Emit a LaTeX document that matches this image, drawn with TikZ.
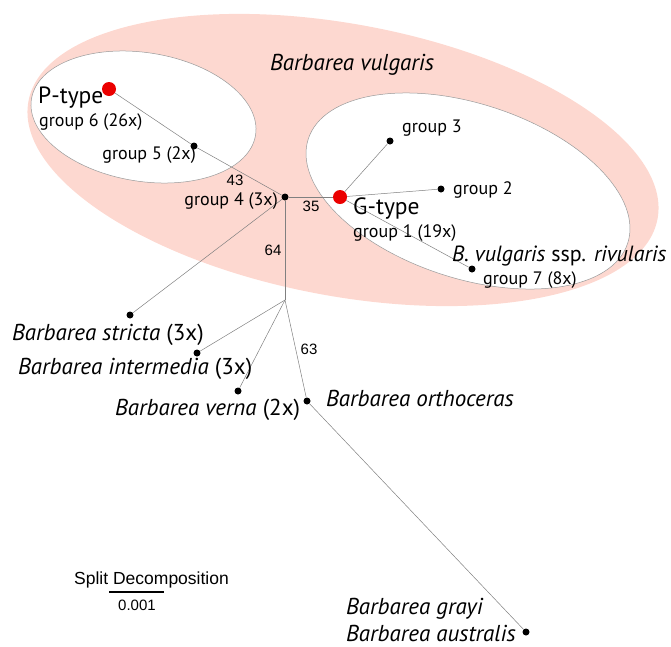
\documentclass[tikz,border=0pt]{standalone}
\usepackage{fontspec}
\setmainfont{PT Sans}
\newfontfamily\arialfont{Liberation Sans}
\usetikzlibrary{positioning}
\definecolor{vulgpink}{RGB}{253,216,208}
\definecolor{typered}{RGB}{235,0,0}
\tikzset{
	taxon/.style={
		circle,
		fill=black,
		inner sep=0pt,
		minimum size=7pt
	},
	typedot/.style={
		circle,
		fill=typered,
		inner sep=0pt,
		minimum size=14pt
	},
	branch/.style={
		draw=gray,
		line width=0.5pt
	},
	clade/.style={
		draw=gray!80,
		line width=0.5pt,
		fill=white
	},
	species/.style={
		inner sep=0pt,
		font=\fontsize{23}{25}\selectfont\itshape
	},
	grouplabel/.style={
		inner sep=0pt,
		font=\fontsize{18}{20}\selectfont
	},
	typelabel/.style={
		inner sep=0pt,
		font=\fontsize{23.5}{25}\selectfont
	},
	support/.style={
		inner sep=0pt,
		font=\arialfont\fontsize{15}{17}\selectfont
	}
}

\begin{document}
\begin{tikzpicture}[x=1pt,y=-1pt]
		\useasboundingbox (0,0) rectangle (671,646);
		% clades
		\fill[vulgpink,rotate around={-10.6:(343,160)}] (343,160) ellipse [x radius=320,y radius=136];
		\draw[clade,rotate around={-9.2:(143.5,117)}] (143.5,117) ellipse [x radius=113.5,y radius=64.3];
		\draw[clade,rotate around={-18.1:(468,191)}] (468,191) ellipse [x radius=168,y radius=87.3];
		% taxa
		\node [typedot] (ptype) at (109,89) {};
		\node [taxon] (g5) at (194,146) {};
		\node [taxon] (g4) at (285,197) {};
		\node [typedot] (gtype) at (340,197) {};
		\node [taxon] (g3) at (390,141) {};
		\node [taxon] (g2) at (441,189) {};
		\node [taxon] (g7) at (472,269) {};
		\coordinate (split) at (285,300);
		\node [taxon] (stri) at (130,315) {};
		\node [taxon] (inte) at (197,353) {};
		\node [taxon] (vern) at (238,391) {};
		\node [taxon] (orth) at (307,401) {};
		\node [taxon] (gray) at (526,632) {};
		% branches
		\draw[branch] (ptype) -- (g5) -- (g4);
		\draw[branch] (g4) -- (gtype);
		\draw[branch] (gtype) -- (g3);
		\draw[branch] (gtype) -- (g2);
		\draw[branch] (gtype) -- (g7);
		\draw[branch] (g4) -- (stri);
		\draw[branch] (g4) -- (split);
		\draw[branch] (split) -- (inte);
		\draw[branch] (split) -- (vern);
		\draw[branch] (split) -- (orth);
		\draw[branch] (orth) -- (gray);
		% labels
		\node [species] (vulg) at (352,65) {Barbarea vulgaris};
		\node [typelabel,anchor=base west] (ptxt) at (38,103) {P-type};
		\node [grouplabel,anchor=base west] (g6txt) at (39,126) {group 6 (26x)};
		\node [grouplabel,anchor=base east] (g5txt) at (196,159) {group 5 (2x)};
		\node [grouplabel,anchor=base east] (g4txt) at (278,205) {group 4 (3x)};
		\node [grouplabel,anchor=base west] (g3txt) at (402,132) {group 3};
		\node [grouplabel,anchor=base west] (g2txt) at (453,194) {group 2};
		\node [typelabel,anchor=base west] (gtxt) at (353,214) {G-type};
		\node [grouplabel,anchor=base west] (g1txt) at (353,237) {group 1 (19x)};
		\node [species,font=\fontsize{22}{24}\selectfont\itshape,anchor=base west] (rivu) at (452,261) {B. vulgaris \upshape ssp. \itshape rivularis};
		\node [grouplabel,anchor=base west] (g7txt) at (483,284) {group 7 (8x)};
		\node [species,anchor=base west] (stritxt) at (12,340) {Barbarea stricta \upshape(3x)};
		\node [species,anchor=base west] (intetxt) at (18,374) {Barbarea intermedia \upshape(3x)};
		\node [species,anchor=base west] (verntxt) at (115,415) {Barbarea verna \upshape(2x)};
		\node [species,anchor=base west] (orthtxt) at (326,406) {Barbarea orthoceras};
		\node [species,anchor=base west] (graytxt) at (346,614) {Barbarea grayi};
		\node [species,anchor=base west] (austtxt) at (346,641) {Barbarea australis};
		% split supports
		\node [support] (s43) at (235,180) {43};
		\node [support] (s35) at (311,206) {35};
		\node [support] (s64) at (273,250) {64};
		\node [support] (s63) at (309,349) {63};
		% scale
		\node [support,font=\arialfont\fontsize{17.5}{19}\selectfont,anchor=base west] (sdtxt) at (74,584) {Split Decomposition};
		\coordinate (barl) at (109,592);
		\coordinate (barr) at (164,592);
		\draw[line width=1.5pt] (barl) -- (barr);
		\node [support] (bartxt) at (137,605) {0.001};
\end{tikzpicture}
\end{document}
